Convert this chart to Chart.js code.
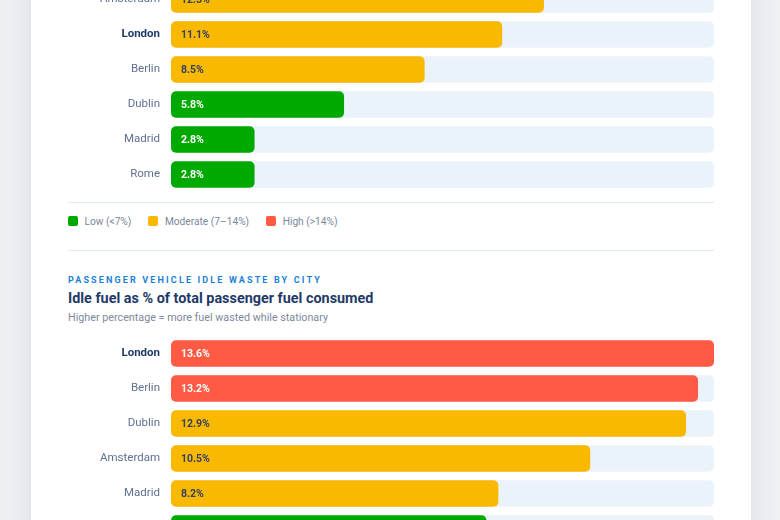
<!DOCTYPE html>
<html>
<head>
<meta charset="utf-8">
<script src="https://cdn.jsdelivr.net/npm/chart.js@4.4.1/dist/chart.umd.min.js"></script>
<style>
  html, body { margin:0; padding:0; }
  body { width:780px; height:520px; overflow:hidden; background:#eef0f4; position:relative; font-family: Roboto, "Noto Sans", sans-serif; }
  .card { position:absolute; left:31px; top:-300px; width:720px; height:1200px; background:#fff; box-shadow:0 0 28px rgba(40,60,100,0.10); }
  .abs { position:absolute; white-space:nowrap; }
  .divider { position:absolute; left:68px; width:646px; height:1px; background:#dcecf8; }
  .legend { position:absolute; top:214px; left:68px; height:14px; display:flex; align-items:center; font-size:10.2px; color:#7b879b; }
  .legend .item { display:flex; align-items:center; margin-right:17px; }
  .legend .sw { width:10px; height:10px; border-radius:2px; margin-right:6.5px; }
  .kicker { left:68px; top:274px; font-size:9px; font-weight:700; letter-spacing:2.15px; color:#1b7fd6; line-height:12px; }
  .title { left:68px; top:290px; font-size:14.4px; font-weight:700; color:#1f3a68; line-height:18px; }
  .sub { left:68px; top:311px; font-size:10.75px; color:#7e899c; line-height:14px; }
  .chartbox { position:absolute; left:68px; width:646px; }
</style>
</head>
<body>
<div class="card"></div>

<div class="chartbox" id="box1" style="top:-18.5px;height:210px;"><canvas id="c1"></canvas></div>

<div class="divider" style="top:202px;"></div>
<div class="legend" id="legend"></div>
<div class="divider" style="top:250px;"></div>

<div class="abs kicker">PASSENGER VEHICLE IDLE WASTE BY CITY</div>
<div class="abs title">Idle fuel as % of total passenger fuel consumed</div>
<div class="abs sub">Higher percentage = more fuel wasted while stationary</div>

<div class="chartbox" id="box2" style="top:335.75px;height:210px;"><canvas id="c2"></canvas></div>

<script>
// ---- data ----
const cities1 = ['Amsterdam', 'London', 'Berlin', 'Dublin', 'Madrid', 'Rome'];
const values1 = [12.5, 11.1, 8.5, 5.8, 2.8, 2.8];
const levels1 = ['moderate', 'moderate', 'moderate', 'low', 'low', 'low'];
const axisMax1 = 18.2;

const cities2 = ['London', 'Berlin', 'Dublin', 'Amsterdam', 'Madrid', 'Rome'];
const values2 = [13.6, 13.2, 12.9, 10.5, 8.2, 7.9];
const levels2 = ['high', 'high', 'moderate', 'moderate', 'moderate', 'low'];
const axisMax2 = 13.6;

const legendLabels = ['Low (<7%)', 'Moderate (7–14%)', 'High (>14%)'];
const legendLevels = ['low', 'moderate', 'high'];
const highlightCity = 'London';

// ---- styles ----
const COLORS = { low:'#00a900', moderate:'#f9b900', high:'#ff5a43' };
const TEXT_ON = { low:'#ffffff', moderate:'#34425e', high:'#ffffff' };
const TRACK = '#eaf2fa';

// legend
const lg = document.getElementById('legend');
legendLabels.forEach((t, i) => {
  const it = document.createElement('div'); it.className = 'item';
  const sw = document.createElement('div'); sw.className = 'sw'; sw.style.background = COLORS[legendLevels[i]];
  const tx = document.createElement('span'); tx.textContent = t;
  it.appendChild(sw); it.appendChild(tx); lg.appendChild(it);
});

const valueLabelPlugin = {
  id: 'valueLabels',
  afterDatasetsDraw(chart) {
    const ctx = chart.ctx;
    const meta = chart.getDatasetMeta(1);
    const levels = chart.options.plugins.valueLabels.levels;
    ctx.save();
    ctx.font = 'bold 10.5px Roboto, sans-serif';
    ctx.textBaseline = 'middle';
    ctx.textAlign = 'left';
    meta.data.forEach((bar, i) => {
      const v = chart.data.datasets[1].data[i];
      ctx.fillStyle = TEXT_ON[levels[i]];
      ctx.fillText(v.toFixed(1) + '%', bar.base + 10, bar.y + 0.5);
    });
    ctx.restore();
  }
};

function makeChart(id, cities, values, levels, axisMax) {
  return new Chart(document.getElementById(id), {
    type: 'bar',
    data: {
      labels: cities,
      datasets: [
        { data: cities.map(() => axisMax), backgroundColor: TRACK, borderRadius: 5, borderSkipped: false, order: 2 },
        { data: values, backgroundColor: levels.map(l => COLORS[l]), borderRadius: 5, borderSkipped: false, order: 1 }
      ]
    },
    options: {
      indexAxis: 'y',
      responsive: true,
      maintainAspectRatio: false,
      animation: false,
      layout: { padding: 0 },
      datasets: { bar: { grouped: false, categoryPercentage: 1, barPercentage: 0.76 } },
      plugins: { legend: { display: false }, tooltip: { enabled: false }, valueLabels: { levels } },
      scales: {
        x: { display: false, min: 0, max: axisMax },
        y: {
          grid: { display: false, drawTicks: false }, border: { display: false },
          afterFit(scale) { scale.width = 103; scale.paddingTop = 0; scale.paddingBottom = 0; },
          ticks: {
            padding: 11,
            color: (c) => (cities[c.index] === highlightCity ? '#1f3a68' : '#5f7090'),
            font: (c) => (cities[c.index] === highlightCity
              ? { family: 'Roboto', size: 11.5, weight: 'bold' }
              : { family: 'Roboto', size: 11.5, weight: 'normal' })
          }
        }
      }
    },
    plugins: [valueLabelPlugin]
  });
}

makeChart('c1', cities1, values1, levels1, axisMax1);
makeChart('c2', cities2, values2, levels2, axisMax2);
</script>
</body>
</html>
